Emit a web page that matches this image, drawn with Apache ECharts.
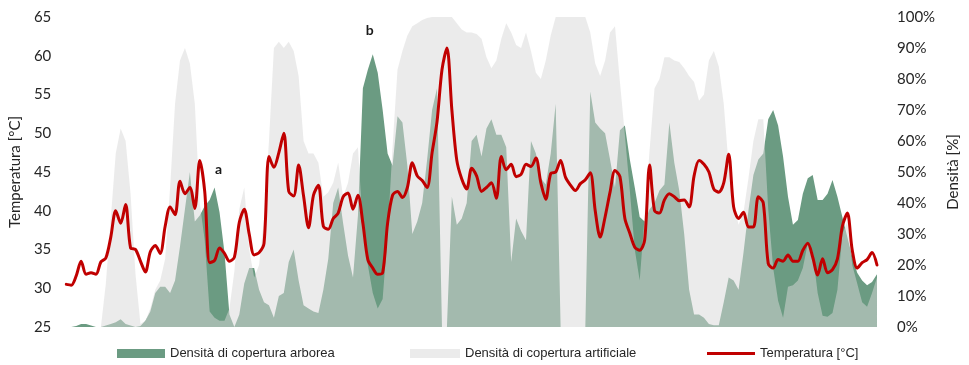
<!DOCTYPE html>
<html>
<head>
<meta charset="utf-8">
<script src="https://cdn.jsdelivr.net/npm/echarts@6/dist/echarts.min.js"></script>
<style>
  html, body { margin: 0; padding: 0; background: #ffffff; }
  #chart { width: 969px; height: 365px; }
</style>
</head>
<body>
<div id="chart"></div>
<script>
// Temperature along the transect [°C], one reading per step
const temperature = [
  30.5, 30.4, 31.6, 33.5, 31.8, 32.0, 31.8, 33.4, 33.9, 36.6,
  40.0, 38.4, 40.8, 35.2, 35.0, 33.5, 32.1, 34.7, 35.5, 34.5,
  38.0, 40.5, 39.5, 43.8, 42.2, 43.0, 40.3, 46.5, 42.5, 33.3,
  33.6, 35.2, 34.5, 33.5, 34.0, 38.5, 40.2, 37.0, 34.3, 34.6,
  35.8, 47.0, 45.6, 47.5, 50.0, 42.5, 41.9, 45.9, 41.9, 37.8,
  42.0, 43.3, 38.0, 37.6, 39.0, 39.7, 41.8, 42.3, 40.2, 42.0,
  38.4, 33.7, 32.6, 31.8, 32.0, 38.4, 42.0, 42.5, 41.7, 43.0,
  46.2, 44.5, 43.9, 43.0, 47.5, 51.5, 58.2, 61.0, 53.0, 46.5,
  44.1, 42.8, 45.5, 44.5, 42.5, 43.0, 43.6, 41.6, 47.0, 45.3,
  46.0, 44.4, 44.7, 46.0, 45.7, 46.8, 43.6, 41.5, 44.8, 45.0,
  46.5, 44.3, 43.3, 42.6, 43.5, 44.0, 44.9, 40.0, 36.6, 39.2,
  42.4, 45.2, 44.4, 39.0, 37.1, 35.3, 34.9, 36.2, 45.9, 40.0,
  39.7, 41.4, 42.2, 41.8, 41.3, 41.4, 40.5, 44.5, 46.5, 46.0,
  45.0, 42.8, 42.4, 43.6, 47.3, 40.5, 39.0, 39.8, 37.9, 37.9,
  41.8, 41.0, 33.2, 32.6, 33.7, 33.5, 34.3, 33.5, 33.5, 34.9,
  35.8, 34.0, 31.7, 33.8, 32.0, 32.4, 33.8, 38.0, 39.7, 34.9,
  32.6, 33.3, 33.7, 34.6, 33.0
];

// Tree canopy density [%]
const treeCover = [
  0, 0, 0.3, 1, 1, 0.5, 0, 0, 0.5, 1,
  1.5, 2.5, 1, 0.5, 0, 0.3, 2, 5, 11, 13,
  13, 11, 15, 26, 38, 50, 34, 36, 39, 41,
  45, 37, 24, 4, 0, 4, 14, 19, 19, 12,
  8, 7, 3, 10, 11, 21, 25, 15, 7, 6,
  5, 4.5, 12, 22, 40, 45, 33.5, 23, 16, 36,
  77, 83, 88, 82, 70, 56, 52, 68, 66, 52,
  30, 34, 40, 54, 70, 77, 0, 0, 42, 33,
  35, 40, 60, 62, 55, 64, 67, 62, 62, 58,
  21, 35, 31, 28, 60, 56, 48, 46, 56, 72,
  0, 0, 0, 0, 0, 0, 76, 66, 64, 62.5,
  54, 45, 63.5, 65, 54, 45, 35.5, 34, 38, 40,
  44, 46, 66, 53, 44, 30, 12, 4, 4, 3,
  1, 0.6, 0.6, 8, 16, 15, 12, 24, 37.7, 49,
  54, 56, 67, 70, 65, 55, 42, 33, 34.5, 43,
  48, 49, 41, 41, 43, 47.4, 42, 35.5, 29, 22.6,
  17.5, 15, 13.5, 14.5, 17
];

// Artificial (built-up) cover density [%]
const artificialCover = [
  0, 0, 0, 0, 0, 0, 0, 0, 14, 35,
  56, 64, 60, 43, 17, 1, 2, 6, 12, 15,
  22, 45, 72, 86, 90, 85, 72, 40, 28, 5,
  3, 2, 2, 6, 18, 38, 45, 25, 16, 20,
  35, 60, 90, 92, 90, 92, 89, 81, 60, 56,
  56, 53, 42, 43.5, 46.5, 53, 42, 46.5, 56, 58,
  32, 20, 11, 6, 9, 30, 58, 83, 89, 94,
  97, 98, 99, 99.7, 100, 100, 100, 100, 100, 98,
  96, 95, 95, 94.5, 93, 87, 83.5, 86, 93, 98,
  95, 91, 90, 95, 89, 82, 80, 86, 94, 100,
  100, 100, 100, 100, 100, 100, 95, 85, 81, 86,
  95, 97, 79, 62, 44, 25, 15, 36, 57, 77,
  80, 87, 87, 86, 85.5, 83.5, 81, 79, 73, 75,
  86, 89, 84, 72, 52, 40, 33, 37, 48, 60,
  67, 67, 38, 19, 8.5, 3, 13, 13.5, 15, 19,
  27, 24, 11, 3.6, 3.3, 4.5, 12, 30, 34, 20,
  14, 8, 6.5, 11, 16
];

// Point annotations on the canopy series: [step index, density, text]
const annotations = [
  [30, 45, 'a'],
  [62, 88, 'b']
];

const steps = temperature.map((_, i) => String(i));

const NAME_TREE = 'Densità di copertura arborea';
const NAME_ART = 'Densità di copertura artificiale';
const NAME_TEMP = 'Temperatura [°C]';

const COL_TREE = '#6b9b82';
const COL_ART = 'rgba(216,216,216,0.514)';
const COL_TEMP = '#c00000';

const tickFont = { fontFamily: 'Lato, "Open Sans", sans-serif', fontSize: 15, color: '#262626' };
const legendFont = { fontFamily: '"Liberation Sans Narrow", "Liberation Sans", Arial, sans-serif', fontSize: 13, color: '#262626' };

const chart = echarts.init(document.getElementById('chart'), null, { renderer: 'canvas' });

chart.setOption({
  animation: false,
  backgroundColor: '#ffffff',
  grid: { left: 65, right: 84, top: 17, bottom: 38, containLabel: false },
  xAxis: {
    type: 'category',
    data: steps,
    boundaryGap: false,
    axisLine: { show: false },
    axisTick: { show: false },
    axisLabel: { show: false },
    splitLine: { show: false }
  },
  yAxis: [
    {
      type: 'value',
      position: 'left',
      min: 25, max: 65, interval: 5,
      name: NAME_TEMP,
      nameLocation: 'middle',
      nameGap: 42,
      nameTextStyle: tickFont,
      axisLine: { show: false },
      axisTick: { show: false },
      splitLine: { show: false },
      axisLabel: Object.assign({ margin: 15 }, tickFont)
    },
    {
      type: 'value',
      position: 'right',
      min: 0, max: 100, interval: 10,
      name: 'Densità [%]',
      nameLocation: 'middle',
      nameGap: 68,
      nameTextStyle: tickFont,
      axisLine: { show: false },
      axisTick: { show: false },
      splitLine: { show: false },
      axisLabel: Object.assign({ margin: 20, formatter: '{value}%' }, tickFont)
    }
  ],
  legend: [
    {
      data: [{ name: NAME_TREE, icon: 'rect', itemStyle: { color: COL_TREE, borderWidth: 0 } }],
      left: 117, top: 347, padding: 0,
      itemWidth: 48, itemHeight: 9, itemGap: 0,
      textStyle: legendFont,
      selectedMode: false
    },
    {
      data: [{ name: NAME_ART, icon: 'rect', itemStyle: { color: '#ebebeb', borderWidth: 0 } }],
      left: 410, top: 347, padding: 0,
      itemWidth: 50, itemHeight: 9, itemGap: 0,
      textStyle: legendFont,
      selectedMode: false
    },
    {
      data: [{ name: NAME_TEMP, icon: 'rect', itemStyle: { color: COL_TEMP, borderWidth: 0 } }],
      left: 707, top: 347, padding: 0,
      itemWidth: 48, itemHeight: 3, itemGap: 0,
      textStyle: legendFont,
      selectedMode: false
    }
  ],
  series: [
    {
      name: NAME_TREE,
      type: 'line',
      yAxisIndex: 1,
      data: treeCover,
      color: COL_TREE,
      symbol: 'none',
      lineStyle: { width: 0 },
      areaStyle: { color: COL_TREE, opacity: 1 },
      z: 1,
      markPoint: {
        symbol: 'circle',
        symbolSize: 0,
        label: {
          show: true,
          fontFamily: 'Lato, "Open Sans", sans-serif',
          fontWeight: 'bold',
          fontSize: 14,
          color: '#1a1a1a'
        },
        data: annotations.map(a => ({
          coord: [a[0], a[1]],
          value: a[2],
          label: { formatter: a[2], offset: a[2] === 'a' ? [4, -18] : [-3, -24] }
        }))
      }
    },
    {
      name: NAME_ART,
      type: 'line',
      yAxisIndex: 1,
      data: artificialCover,
      color: COL_ART,
      symbol: 'none',
      lineStyle: { width: 0 },
      areaStyle: { color: COL_ART, opacity: 1 },
      z: 2
    },
    {
      name: NAME_TEMP,
      type: 'line',
      yAxisIndex: 0,
      data: temperature,
      color: COL_TEMP,
      symbol: 'none',
      smooth: 0.3,
      lineStyle: { width: 3, color: COL_TEMP, join: 'round', cap: 'round' },
      z: 3
    }
  ]
});
</script>
</body>
</html>
